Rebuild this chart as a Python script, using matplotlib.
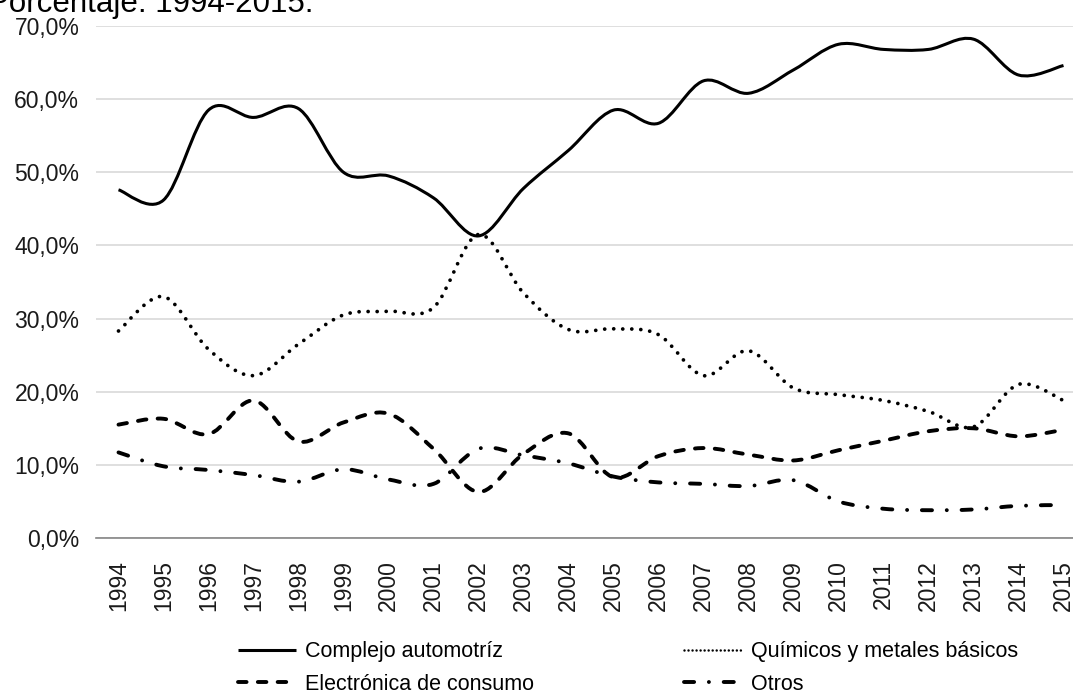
import numpy as np
import matplotlib
matplotlib.use("Agg")
from matplotlib import pyplot as plt
from matplotlib.path import Path
from matplotlib.patches import PathPatch
from matplotlib.lines import Line2D

plt.rcParams['font.family'] = ['Liberation Sans', 'DejaVu Sans']

years = list(range(1994, 2016))
automotriz = [47.6, 46.2, 58.5, 57.5, 58.7, 50.0, 49.5, 46.5, 41.3, 47.8, 53.0,
              58.5, 56.7, 62.5, 60.8, 64.0, 67.5, 66.8, 66.8, 68.2, 63.3, 64.6]
quimicos = [28.3, 33.0, 25.8, 22.2, 26.5, 30.5, 31.0, 31.5, 41.5, 33.5, 28.5,
            28.6, 27.8, 22.2, 25.6, 20.5, 19.6, 18.8, 17.3, 15.2, 21.0, 18.8]
electronica = [15.5, 16.3, 14.2, 18.8, 13.2, 15.8, 17.0, 12.2, 6.3, 11.5, 14.3,
               8.3, 11.2, 12.3, 11.4, 10.6, 12.0, 13.3, 14.6, 15.0, 13.9, 14.8]
otros = [11.7, 9.8, 9.3, 8.6, 7.7, 9.4, 8.0, 7.4, 12.2, 11.3, 10.2,
         8.4, 7.6, 7.4, 7.1, 7.9, 5.0, 4.0, 3.8, 3.9, 4.4, 4.5]

labels = ['Complejo automotríz', 'Químicos y metales básicos',
          'Electrónica de consumo', 'Otros']
# (linestyle, linewidth, capstyle)
styles = [('-', 2.2, 'butt'),
          ((0, (0.01, 2.4)), 2.7, 'round'),
          ((0, (2.2, 2.9)), 2.8, 'round'),
          ((0, (2.6, 3.8, 0.01, 3.8)), 2.8, 'round')]


def smooth_path(y):
    # bezier path like the "smoothed line" option of a spreadsheet
    x = np.arange(len(y), dtype=float)
    y = np.asarray(y, dtype=float)
    pts = np.column_stack([x, y])
    verts = [pts[0]]
    codes = [Path.MOVETO]
    n = len(pts)
    for i in range(n - 1):
        p0 = pts[max(i - 1, 0)]
        p1 = pts[i]
        p2 = pts[i + 1]
        p3 = pts[min(i + 2, n - 1)]
        c1 = p1 + (p2 - p0) / 6.0
        c2 = p2 - (p3 - p1) / 6.0
        verts += [c1, c2, p2]
        codes += [Path.CURVE4] * 3
    return Path(verts, codes)


fig = plt.figure(figsize=(10.73, 6.98), dpi=100)
ax = fig.add_axes([96 / 1073, 1 - 538 / 698, 990 / 1073, 512 / 698])

for data, (ls, lw, cap) in zip([automotriz, quimicos, electronica, otros], styles):
    patch = PathPatch(smooth_path(data), facecolor='none', edgecolor='black',
                      lw=lw, linestyle=ls, capstyle=cap, joinstyle='round')
    ax.add_patch(patch)

ax.set_xlim(-0.5, len(years) - 0.5)
ax.set_ylim(0, 70)
ax.set_yticks(np.arange(0, 71, 10))
ax.set_yticklabels([f'{v:.1f}%'.replace('.', ',') for v in np.arange(0, 71, 10)])
ax.set_xticks(range(len(years)))
ax.set_xticklabels([str(y) for y in years], rotation=90)
ax.tick_params(axis='both', length=0, labelsize=16.5, colors='#1a1a1a')
ax.tick_params(axis='y', pad=12)
ax.tick_params(axis='x', pad=16)
ax.grid(axis='y', color='#d9d9d9', lw=1.2)
ax.set_axisbelow(True)
for s in ['top', 'right', 'left']:
    ax.spines[s].set_visible(False)
ax.spines['bottom'].set_color('#868686')
ax.spines['bottom'].set_linewidth(1.2)

fig.text(313 / 1073, 1 - 12 / 698, 'Porcentaje. 1994-2015.', ha='right',
         va='baseline', fontsize=22.5, color='black')

# legend fills column by column, so order the entries to read row by row
order = [0, 2, 1, 3]
handles = []
for i in order:
    ls, lw, cap = styles[i]
    if i == 1:
        ls, lw = (0, (0.01, 1.6)), 1.8
    handles.append(Line2D([], [], color='black', lw=lw, linestyle=ls,
                          dash_capstyle=cap, solid_capstyle='butt'))
fig.legend(handles, [labels[i] for i in order], ncol=2, loc='center',
           bbox_to_anchor=(628 / 1073, 1 - 668 / 698),
           frameon=False, fontsize=15.5, handlelength=2.7, handletextpad=0.4,
           columnspacing=7.0, labelspacing=0.55)

fig.savefig('out.png', dpi=100)
